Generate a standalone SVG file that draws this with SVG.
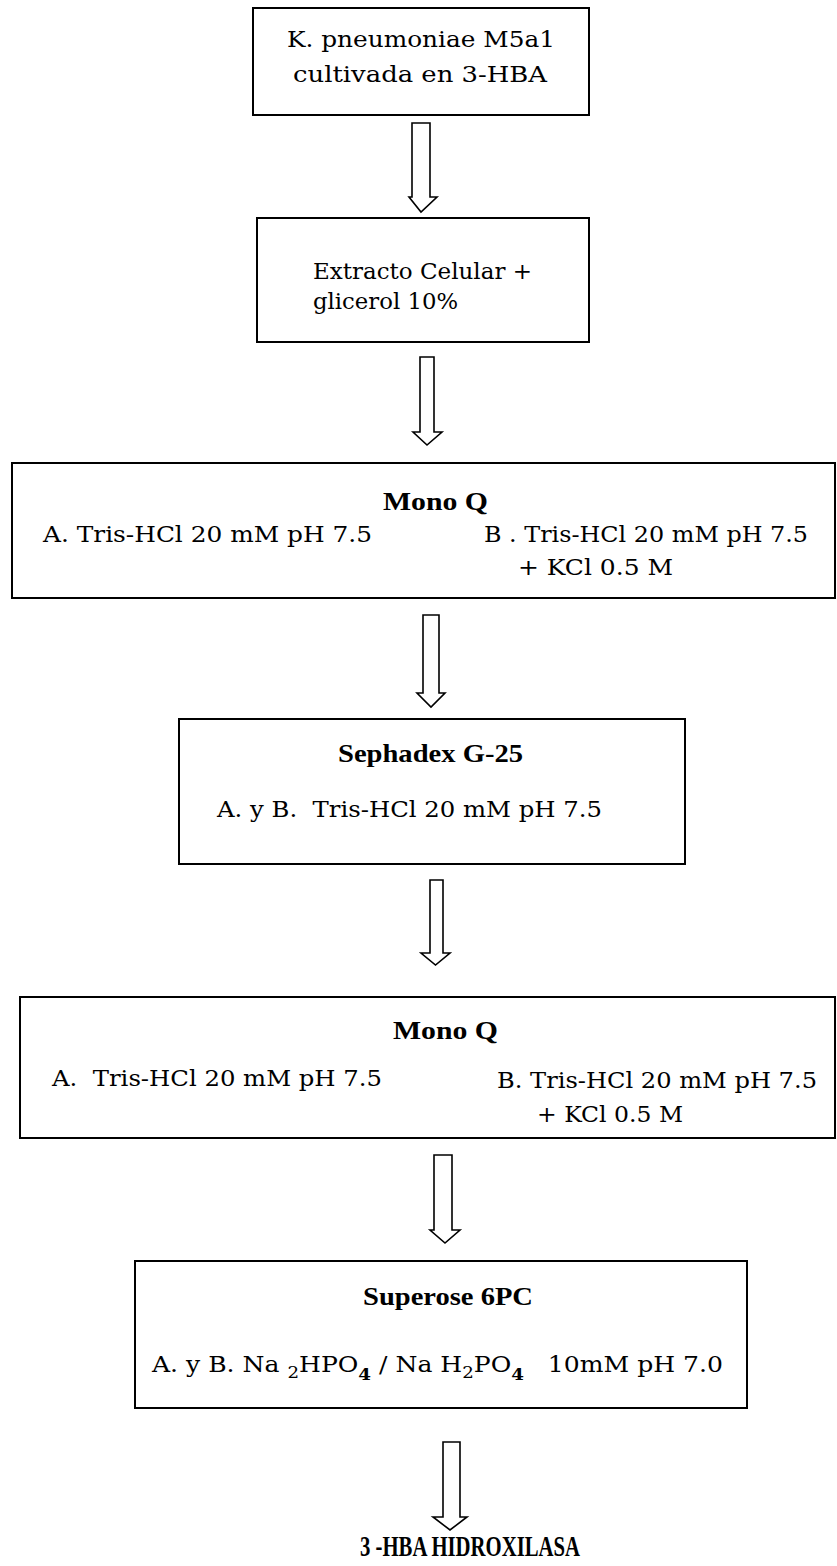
<svg xmlns="http://www.w3.org/2000/svg" width="837" height="1566" viewBox="0 0 837 1566">
<style>
.box{fill:#fff;stroke:#000;stroke-width:2}
.t{font-family:"DejaVu Serif","Liberation Serif",serif;font-size:22px;fill:#000;white-space:pre}
.b{font-family:"Liberation Serif","DejaVu Serif",serif;font-weight:bold;font-size:25px;fill:#000}
.arr{fill:#fff;stroke:#000;stroke-width:1.6;stroke-linejoin:miter}
</style>
<rect width="837" height="1566" fill="#fff"/>
<g id="connectors">
<path class="arr" d="M412,123 H430 V197 H437 L421,212 L409,197 H412 Z"/>
<path class="arr" d="M420,357 H434 V432 H442 L427,445 L413,432 H420 Z"/>
<path class="arr" d="M423,615 H439 V693 H445 L431,707 L417,693 H423 Z"/>
<path class="arr" d="M430,880 H443 V953 H450 L435.5,965 L421,953 H430 Z"/>
<path class="arr" d="M434,1155 H452 V1230 H460 L445,1243 L430,1230 H434 Z"/>
<path class="arr" d="M443,1442 H460 V1517 H467 L450,1530 L433,1517 H443 Z"/>
</g>
<g id="n1">
<rect class="box" x="253" y="8" width="336" height="107"/>
<text class="t" x="287" y="47" textLength="268" lengthAdjust="spacingAndGlyphs">K. pneumoniae M5a1</text>
<text class="t" x="293" y="82" textLength="254" lengthAdjust="spacingAndGlyphs">cultivada en 3-HBA</text>
</g>
<g id="n2">
<rect class="box" x="257" y="218" width="332" height="124"/>
<text class="t" x="313" y="279" textLength="219" lengthAdjust="spacingAndGlyphs">Extracto Celular +</text>
<text class="t" x="313" y="309" textLength="145" lengthAdjust="spacingAndGlyphs">glicerol 10%</text>
</g>
<g id="n3">
<rect class="box" x="12" y="463" width="823" height="135"/>
<text class="b" x="383" y="510" textLength="105" lengthAdjust="spacingAndGlyphs">Mono Q</text>
<text class="t" x="43" y="542" textLength="329" lengthAdjust="spacingAndGlyphs">A. Tris-HCl 20 mM pH 7.5</text>
<text class="t" x="484" y="542" textLength="324" lengthAdjust="spacingAndGlyphs">B . Tris-HCl 20 mM pH 7.5</text>
<text class="t" x="518" y="575" textLength="155" lengthAdjust="spacingAndGlyphs">+ KCl 0.5 M</text>
</g>
<g id="n4">
<rect class="box" x="179" y="719" width="506" height="145"/>
<text class="b" x="338" y="762" textLength="185" lengthAdjust="spacingAndGlyphs">Sephadex G-25</text>
<text class="t" x="217" y="817" textLength="385" lengthAdjust="spacingAndGlyphs">A. y B.  Tris-HCl 20 mM pH 7.5</text>
</g>
<g id="n5">
<rect class="box" x="20" y="997" width="815" height="141"/>
<text class="b" x="393" y="1039" textLength="105" lengthAdjust="spacingAndGlyphs">Mono Q</text>
<text class="t" x="52" y="1086" textLength="330" lengthAdjust="spacingAndGlyphs">A.  Tris-HCl 20 mM pH 7.5</text>
<text class="t" x="497" y="1088" textLength="320" lengthAdjust="spacingAndGlyphs">B. Tris-HCl 20 mM pH 7.5</text>
<text class="t" x="537" y="1122" textLength="146" lengthAdjust="spacingAndGlyphs">+ KCl 0.5 M</text>
</g>
<g id="n6">
<rect class="box" x="135" y="1261" width="612" height="147"/>
<text class="b" x="363" y="1305" textLength="170" lengthAdjust="spacingAndGlyphs">Superose 6PC</text>
<text class="t" x="152" y="1372" textLength="571" lengthAdjust="spacingAndGlyphs">A. y B. Na <tspan font-size="16" dy="6">2</tspan><tspan dy="-6">HPO</tspan><tspan font-size="16" font-weight="bold" dy="8">4</tspan><tspan dy="-8"> / Na H</tspan><tspan font-size="16" dy="6">2</tspan><tspan dy="-6">PO</tspan><tspan font-size="16" font-weight="bold" dy="8">4</tspan><tspan dy="-8">   10mM pH 7.0</tspan></text>
</g>
<g id="n7">
<text class="b" x="360" y="1556" style="font-size:29px" textLength="220" lengthAdjust="spacingAndGlyphs">3 -HBA HIDROXILASA</text>
</g>
</svg>
